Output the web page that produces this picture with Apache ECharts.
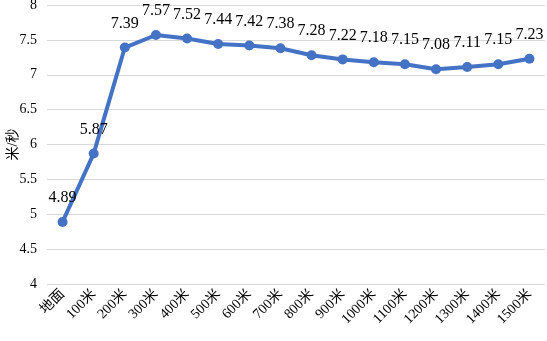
<!DOCTYPE html>
<html>
<head>
<meta charset="utf-8">
<script src="https://cdn.jsdelivr.net/npm/echarts@6/dist/echarts.min.js"></script>
<style>html,body{margin:0;padding:0;background:#fff;}#chart{width:547px;height:341px;}</style>
</head>
<body>
<div id="chart"></div>
<script>
// 距离
var categories = ['地面', '100米', '200米', '300米', '400米', '500米', '600米', '700米', '800米',
    '900米', '1000米', '1100米', '1200米', '1300米', '1400米', '1500米'];
// 速度 米/秒
var speeds = [4.89, 5.87, 7.39, 7.57, 7.52, 7.44, 7.42, 7.38, 7.28, 7.22, 7.18, 7.15, 7.08, 7.11, 7.15, 7.23];
var yMin = 4, yMax = 8, yStep = 0.5;

var serif = '"Liberation Serif", "Noto Sans CJK SC", serif';
var myChart = echarts.init(document.getElementById('chart'));
var option = {
    animation: false,
    backgroundColor: '#ffffff',
    grid: {
        left: 47,
        right: 2,
        top: 5,
        bottom: 57,
        outerBoundsMode: 'none'
    },
    xAxis: {
        type: 'category',
        data: categories,
        boundaryGap: true,
        axisLine: { show: false },
        axisTick: { show: false },
        axisLabel: {
            interval: 0,
            rotate: 45,
            fontFamily: serif,
            fontSize: 14,
            color: '#000',
            margin: 8
        }
    },
    yAxis: {
        type: 'value',
        min: yMin,
        max: yMax,
        interval: yStep,
        name: '米/秒',
        nameLocation: 'middle',
        nameGap: 27,
        nameMoveOverlap: false,
        nameRotate: 90,
        nameTextStyle: { fontFamily: serif, fontSize: 14, color: '#000' },
        axisLine: { show: false },
        axisTick: { show: false },
        axisLabel: { fontFamily: serif, fontSize: 14, color: '#000', margin: 10 },
        splitLine: { lineStyle: { color: '#d9d9d9', width: 1 } }
    },
    series: [{
        name: '米/秒',
        type: 'line',
        data: speeds,
        symbol: 'circle',
        symbolSize: 10,
        lineStyle: { color: '#4472C4', width: 4 },
        itemStyle: { color: '#4472C4' },
        label: {
            show: true,
            position: 'top',
            distance: 11,
            fontFamily: serif,
            fontSize: 16,
            color: '#000'
        }
    }]
};
myChart.setOption(option);
</script>
</body>
</html>
